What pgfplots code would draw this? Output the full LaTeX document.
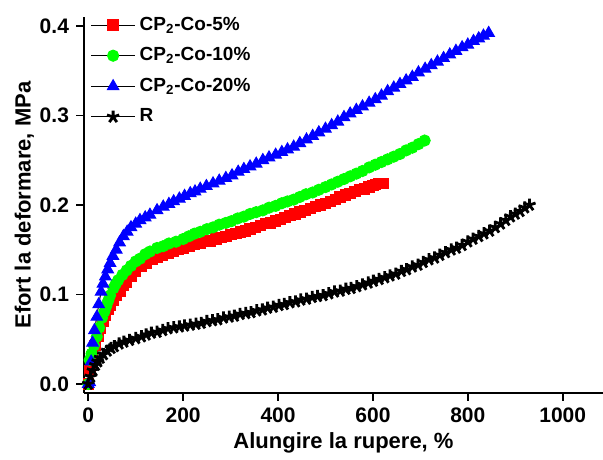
\documentclass[border=0pt]{standalone}
\usepackage{fontspec}
\setmainfont{Liberation Sans}
\usepackage{pgfplots}
\pgfplotsset{compat=1.18}

\definecolor{cred}{RGB}{255,0,0}
\definecolor{cgreen}{RGB}{0,255,0}
\definecolor{cblue}{RGB}{0,0,255}

\begin{document}
\begin{tikzpicture}
\begin{axis}[
    name=ax,
    scale only axis,
    width=259.5pt, height=188pt,
    xmin=-9, xmax=1085,
    ymin=-0.01, ymax=0.41,
    axis lines=left,
    axis line style={-, line width=1pt, black},
    tick align=outside,
    major tick length=4pt,
    tick style={line width=0.9pt, black},
    xtick={0,200,400,600,800,1000},
    ytick={0,0.1,0.2,0.3,0.4},
    minor tick num=0,
    /pgf/number format/assume math mode=true,
    ticklabel style={font=\fontsize{10.5}{12}\selectfont\bfseries},
    yticklabel style={/pgf/number format/.cd, fixed, fixed zerofill, precision=1},
    xticklabel style={/pgf/number format/.cd, fixed, 1000 sep={}},
    label style={font=\fontsize{11}{13}\selectfont\bfseries},
    xlabel={Alungire la rupere, \%},
    ylabel={Efort la deformare, MPa},
    xlabel style={yshift=2pt},
    ylabel shift=-4pt,
    legend style={at={(0.012,1.012)}, anchor=north west, draw=none, fill=none,
        font=\fontsize{9.5}{11}\selectfont\bfseries, row sep=3.2pt,
        inner sep=0pt},
    legend cell align=left,
    legend image code/.code={\draw[mark repeat=2, mark phase=2]
        plot coordinates {(0pt,0pt)(11pt,0pt)(22pt,0pt)};},
]
\addplot[black, line width=0.5pt, mark=square*, mark size=2.6pt,
    mark options={draw=cred, fill=cred}] coordinates {
(0,0) (4,0.015) (8,0.031) (14,0.043) (21,0.053) (26,0.062) (31,0.070)
(36,0.077) (42,0.083) (47,0.088) (53,0.093) (60,0.099) (67,0.104)
(74,0.110) (80,0.114) (90,0.120) (100,0.126) (111,0.131) (123,0.135)
(134,0.139) (145,0.142) (156,0.144) (168,0.146) (179,0.148) (190,0.150)
(201,0.152) (213,0.154) (224,0.156) (236,0.157) (247,0.159) (258,0.160)
(269,0.162) (280,0.164) (290,0.165) (301,0.167) (311,0.168) (321,0.170)
(331,0.171) (341,0.173) (352,0.175) (363,0.177) (374,0.179) (384,0.180)
(395,0.182) (405,0.184) (415,0.186) (425,0.188) (436,0.190) (446,0.192)
(457,0.194) (468,0.196) (479,0.198) (489,0.200) (500,0.202) (510,0.204)
(521,0.206) (531,0.209) (542,0.211) (552,0.213) (562,0.215) (572,0.217)
(582,0.218) (592,0.220) (600,0.222) (606,0.223) (613,0.224) (621,0.224)
};
\addlegendentry{CP\textsubscript{2}-Co-5\%}
\addplot[black, line width=0.5pt, mark=*, mark size=2.8pt,
    mark options={draw=cgreen, fill=cgreen}] coordinates {
(0,0) (3,0.027) (7,0.034) (12,0.043) (18,0.053) (23,0.063) (29,0.074)
(34,0.081) (38,0.087) (42,0.093) (46,0.099) (53,0.107) (58,0.112)
(63,0.116) (72,0.122) (81,0.127) (90,0.132) (100,0.137) (109,0.140)
(120,0.145) (130,0.148) (145,0.152) (158,0.154) (170,0.157) (185,0.159)
(200,0.162) (212,0.165) (224,0.168) (236,0.170) (250,0.173) (263,0.175)
(276,0.178) (290,0.180) (302,0.182) (315,0.185) (328,0.187) (341,0.190)
(354,0.192) (368,0.194) (381,0.197) (395,0.199) (408,0.202) (420,0.204)
(433,0.206) (446,0.209) (459,0.212) (473,0.214) (486,0.217) (500,0.220)
(513,0.223) (526,0.226) (539,0.229) (552,0.232) (565,0.235) (578,0.238)
(592,0.242) (605,0.245) (618,0.248) (631,0.251) (644,0.254) (657,0.257)
(670,0.261) (683,0.264) (696,0.268) (709,0.272)
};
\addlegendentry{CP\textsubscript{2}-Co-10\%}
\addplot[black, line width=0.5pt, mark=triangle*, mark size=3.3pt,
    mark options={draw=cblue, fill=cblue}] coordinates {
(0,0) (3,0.002) (6,0.025) (9,0.046) (13,0.060) (18,0.075) (22,0.089)
(27,0.103) (31,0.112) (36,0.120) (41,0.128) (46,0.135) (52,0.143)
(59,0.150) (66,0.158) (74,0.165) (82,0.170) (90,0.175) (100,0.179)
(109,0.183) (120,0.186) (130,0.189) (145,0.194) (158,0.198) (170,0.201)
(180,0.204) (192,0.207) (203,0.210) (215,0.213) (225,0.215) (236,0.218)
(249,0.221) (263,0.224) (276,0.227) (290,0.230) (303,0.233) (316,0.237)
(328,0.240) (341,0.243) (354,0.246) (368,0.250) (381,0.253) (395,0.256)
(408,0.259) (420,0.262) (433,0.265) (446,0.269) (460,0.273) (473,0.277)
(486,0.281) (500,0.285) (513,0.289) (526,0.293) (539,0.298) (552,0.302)
(565,0.306) (578,0.310) (592,0.314) (605,0.318) (618,0.322) (631,0.327)
(644,0.331) (657,0.335) (670,0.339) (683,0.343) (696,0.348) (710,0.352)
(723,0.356) (736,0.360) (749,0.364) (762,0.368) (775,0.372) (788,0.376)
(800,0.379) (812,0.383) (823,0.386) (833,0.389) (844,0.392)
};
\addlegendentry{CP\textsubscript{2}-Co-20\%}
\addplot[black, line width=0.5pt, mark=star, mark size=3.2pt,
    mark options={draw=black, line width=1.4pt}] coordinates {
(0,0) (5,0.008) (10,0.015) (15,0.021) (20,0.025) (25,0.029) (32,0.033)
(40,0.037) (48,0.040) (55,0.042) (65,0.045) (75,0.047) (87,0.049)
(100,0.051) (112,0.053) (122,0.055) (133,0.057) (145,0.058) (157,0.060)
(168,0.062) (180,0.063) (192,0.064) (203,0.065) (215,0.066) (227,0.067)
(238,0.068) (250,0.070) (262,0.071) (273,0.072) (285,0.074) (297,0.075)
(308,0.076) (320,0.078) (332,0.079) (343,0.080) (355,0.082) (367,0.083)
(378,0.085) (390,0.086) (402,0.088) (413,0.089) (425,0.091) (437,0.092)
(448,0.094) (460,0.095) (472,0.097) (483,0.098) (495,0.099) (507,0.101)
(519,0.103) (531,0.104) (543,0.106) (554,0.107) (566,0.109) (578,0.111)
(590,0.113) (601,0.115) (613,0.117) (625,0.119) (636,0.121) (648,0.123)
(660,0.126) (671,0.128) (683,0.131) (695,0.133) (706,0.136) (718,0.139)
(730,0.141) (741,0.144) (753,0.147) (765,0.150) (776,0.152) (788,0.155)
(800,0.159) (811,0.162) (823,0.165) (834,0.168) (846,0.171) (858,0.175)
(869,0.179) (880,0.183) (890,0.187) (900,0.190) (910,0.193) (920,0.197)
(930,0.200)
};
\addlegendentry{R}
\end{axis}
\pgfresetboundingbox
\path[use as bounding box] ([xshift=-42pt,yshift=-33pt]ax.south west)
    rectangle ([yshift=8.5pt]ax.north east);
\end{tikzpicture}
\end{document}
